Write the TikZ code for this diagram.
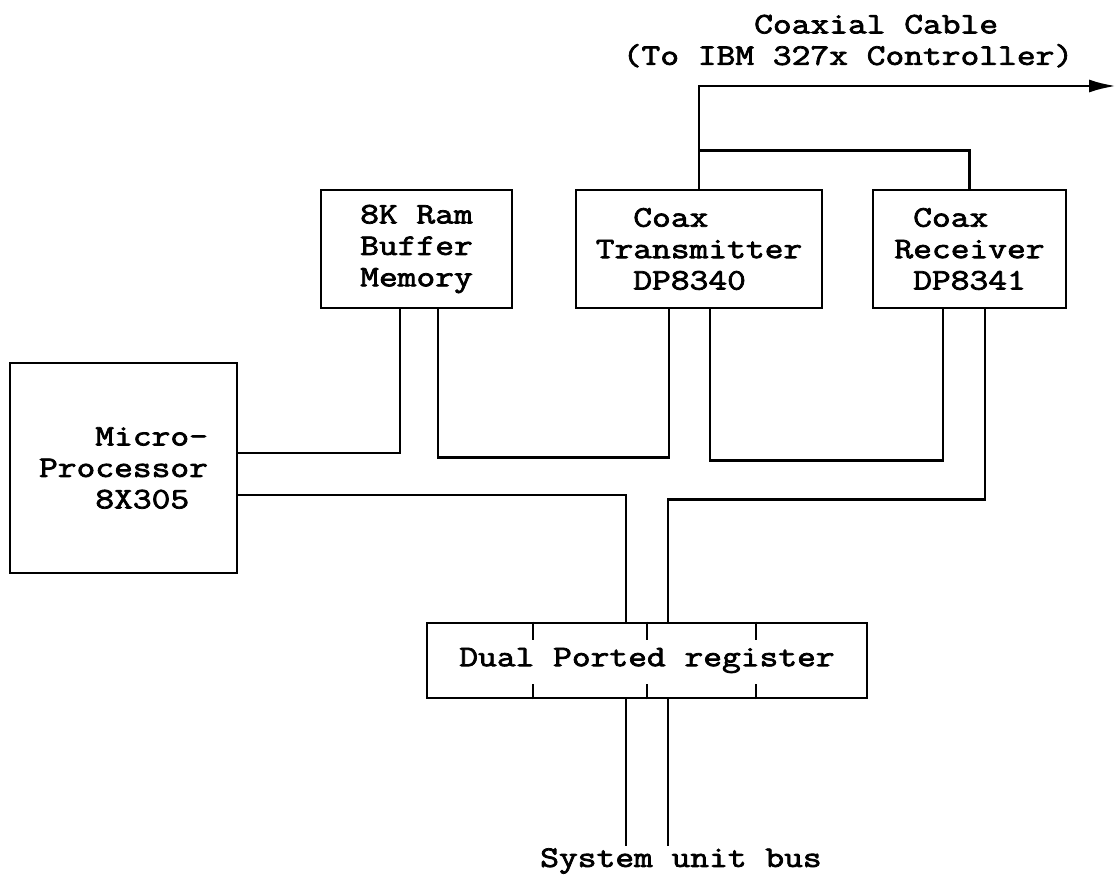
\documentclass[tikz,border=0pt]{standalone}
\usepackage{fontspec}
\setmonofont{Latin Modern Mono}[FakeStretch=1.22,FakeBold=2.5]
\usetikzlibrary{arrows.meta,positioning}

\begin{document}
\begin{tikzpicture}[
  x=0.02cm, y=-0.02cm,
  font=\ttfamily\fontsize{17pt}{17.9pt}\selectfont,
  line width=1.6pt,
  box/.style={draw,inner sep=0pt,align=left},
  arr/.style={-{Latex[length=5.4mm,width=2.6mm]}}
]
\useasboundingbox (0,0) rectangle (1117,875);
% blocks
\node[box,minimum width=3.82cm,minimum height=2.36cm] (mem) at (416.5,249) {8K Ram\\Buffer\\Memory};
\node[box,minimum width=4.92cm,minimum height=2.36cm] (tx) at (699,249) {\phantom{Tr}Coax\\Transmitter\\\phantom{Tr}DP8340};
\node[box,minimum width=3.86cm,minimum height=2.36cm] (rx) at (969.5,249) {\phantom{R}Coax\\Receiver\\\phantom{R}DP8341};
\node[box,minimum width=4.54cm,minimum height=4.2cm] (mp) at (123.5,468) {\phantom{Pro}Micro-\\Processor\hspace*{0.32cm}\\\phantom{Pro}8X305};
\node[box,minimum width=8.8cm,minimum height=1.5cm] (reg) at (647,660.5) {Dual Ported register};
\foreach \dx in {-2.28,0,2.18} {
  \draw ([xshift=\dx cm]reg.north) -- ++(0,18);
  \draw ([xshift=\dx cm]reg.south) -- ++(0,-15);
}
% labels
\node[align=left] (coax) at (848,40) {\phantom{(To IBM}Coaxial Cable\\(To IBM 327x Controller)};
\node (sysbus) at (681,861) {System unit bus};
\coordinate (cable) at (1116,86);
% coax cable
\draw[arr] (tx.north) |- (cable);
\draw ([yshift=0.76cm]tx.north) -| (rx.north);
% internal bus
\draw ([xshift=-0.33cm]mem.south) |- ([yshift=0.3cm]mp.east);
\draw ([xshift=0.43cm]mem.south) -- ++(0,148) -| ([xshift=-0.6cm]tx.south);
\draw ([xshift=0.22cm]tx.south) -- ++(0,151) -| ([xshift=-0.53cm]rx.south);
\draw ([yshift=-0.54cm]mp.east) -| ([xshift=-0.42cm]reg.north);
\draw ([xshift=0.31cm]rx.south) -- ++(0,190) -| ([xshift=0.42cm]reg.north);
% system unit bus
\draw ([xshift=-0.42cm]reg.south) -- ++(0,147);
\draw ([xshift=0.42cm]reg.south) -- ++(0,147);
\end{tikzpicture}
\end{document}
